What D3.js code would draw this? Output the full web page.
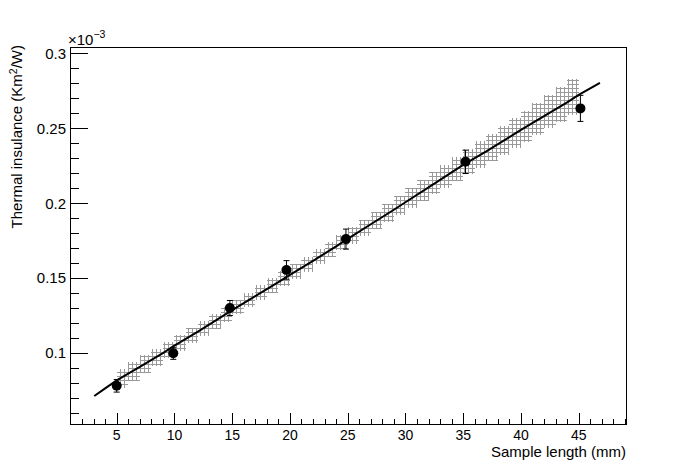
<!DOCTYPE html>
<html>
<head>
<meta charset="utf-8">
<script src="https://cdn.jsdelivr.net/npm/d3@7"></script>
<style>
  body { margin: 0; background: #fff; }
  text { font-family: "Liberation Sans", Arial, sans-serif; fill: #000; }
</style>
</head>
<body>
<div id="chart"></div>
<script>
//Data
var pointX = [5.0, 9.9, 14.8, 19.7, 24.85, 35.2, 45.15];
var pointY = [0.0779, 0.0996, 0.1299, 0.1553, 0.1759, 0.2275, 0.2632];
var pointErr = [0.0042, 0.0040, 0.0050, 0.0062, 0.0067, 0.0078, 0.0087];

var lineX = [3.06, 4, 5, 7, 9, 10, 12, 14, 15, 17, 19, 20, 22, 24, 25, 27, 29, 30, 32, 34, 35, 37, 39, 40, 42, 44, 45, 46.84];
var lineY = [0.0711, 0.0762, 0.0815, 0.0905, 0.0998, 0.1048, 0.1140, 0.1236, 0.1285, 0.1378, 0.1472, 0.1520, 0.1614, 0.1710, 0.1760,
             0.1858, 0.1955, 0.2005, 0.2105, 0.2205, 0.2255, 0.2345, 0.2440, 0.2488, 0.2580, 0.2672, 0.2722, 0.2803];

// band bins, 1 mm wide, starting at 5 mm
var bandStart = [5, 6, 7, 8, 9, 10, 11, 12, 13, 14, 15, 16, 17, 18, 19, 20, 21, 22, 23, 24,
                 25, 26, 27, 28, 29, 30, 31, 32, 33, 34, 35, 36, 37, 38, 39, 40, 41, 42, 43, 44];
var bandMid = [0.0828, 0.0875, 0.0923, 0.0971, 0.1019, 0.1066, 0.1114, 0.1162, 0.1210, 0.1258,
               0.1305, 0.1353, 0.1401, 0.1449, 0.1497, 0.1544, 0.1592, 0.1640, 0.1688, 0.1735,
               0.1783, 0.1833, 0.1883, 0.1933, 0.1982, 0.2032, 0.2082, 0.2132, 0.2180, 0.2228,
               0.2277, 0.2325, 0.2372, 0.2419, 0.2466, 0.2513, 0.2560, 0.2610, 0.2657, 0.2705];
var bandHalf = [0.0065, 0.0062, 0.0059, 0.0057, 0.0055, 0.0053, 0.0052, 0.0051, 0.0050, 0.0050,
                0.0049, 0.0049, 0.0049, 0.0049, 0.0049, 0.0049, 0.0050, 0.0050, 0.0051, 0.0052,
                0.0054, 0.0056, 0.0058, 0.0061, 0.0064, 0.0067, 0.0070, 0.0073, 0.0077, 0.0081,
                0.0084, 0.0088, 0.0092, 0.0096, 0.0100, 0.0104, 0.0108, 0.0112, 0.0116, 0.0120];

var xMajor = [5, 10, 15, 20, 25, 30, 35, 40, 45];
var yMajor = [0.1, 0.15, 0.2, 0.25, 0.3];

//Setup
var width = 696, height = 472;
var frame = { left: 70, right: 626.5, top: 47, bottom: 424 };

var x = d3.scaleLinear().domain([0.957, 49.14]).range([frame.left, frame.right]);
var y = d3.scaleLinear().domain([0.0524, 0.3042]).range([frame.bottom, frame.top]);

var svg = d3.select("#chart")
    .append("svg")
    .attr("width", width)
    .attr("height", height);

//Hatch pattern for the band
var pat = svg.append("defs").append("pattern")
    .attr("id", "hatch")
    .attr("width", 4)
    .attr("height", 4)
    .attr("patternUnits", "userSpaceOnUse");
pat.append("path")
    .attr("d", "M0,0.5H4M0.5,0V4")
    .attr("stroke", "#999")
    .attr("stroke-width", 1)
    .attr("fill", "none");

//Band
svg.append("g").selectAll("rect")
    .data(bandStart)
    .join("rect")
    .attr("x", d => x(d))
    .attr("width", d => x(d + 1) - x(d))
    .attr("y", (d, i) => y(bandMid[i] + bandHalf[i]))
    .attr("height", (d, i) => y(bandMid[i] - bandHalf[i]) - y(bandMid[i] + bandHalf[i]))
    .attr("fill", "url(#hatch)")
    .attr("shape-rendering", "crispEdges");

//Line
var line = d3.line()
    .x((d, i) => x(lineX[i]))
    .y((d, i) => y(lineY[i]));
svg.append("path")
    .attr("d", line(lineX))
    .attr("fill", "none")
    .attr("stroke", "#000")
    .attr("stroke-width", 2);

//Error bars
var pts = svg.append("g");
pointX.forEach((px, i) => {
    var cx = x(px), top = y(pointY[i] + pointErr[i]), bot = y(pointY[i] - pointErr[i]);
    pts.append("path")
        .attr("d", `M${cx},${top}V${bot}M${cx - 3},${top}H${cx + 3}M${cx - 3},${bot}H${cx + 3}`)
        .attr("stroke", "#000")
        .attr("stroke-width", 1)
        .attr("fill", "none");
    pts.append("circle")
        .attr("cx", cx)
        .attr("cy", y(pointY[i]))
        .attr("r", 5)
        .attr("fill", "#000");
});

//Axes
var xAxis = g => g
    .attr("transform", `translate(0, ${frame.bottom})`)
    .call(d3.axisTop(x).tickValues(d3.range(1, 50)).tickSize(5.5).tickFormat(""))
    .call(g => g.selectAll(".tick").filter(d => d % 5 === 0).select("line").attr("y2", -11));
var yAxis = g => g
    .attr("transform", `translate(${frame.left}, 0)`)
    .call(d3.axisRight(y).tickValues(d3.range(6, 31).map(d => d / 100)).tickSize(8.7).tickFormat(""))
    .call(g => g.selectAll(".tick").filter(d => Math.round(d * 100) % 5 === 0).select("line").attr("x2", 17.7));

svg.append("g").call(xAxis).call(g => g.select(".domain").remove());
svg.append("g").call(yAxis).call(g => g.select(".domain").remove());
svg.selectAll(".tick line").attr("stroke", "#000").attr("shape-rendering", "crispEdges");

//Frame
svg.append("rect")
    .attr("x", frame.left)
    .attr("y", frame.top)
    .attr("width", frame.right - frame.left)
    .attr("height", frame.bottom - frame.top)
    .attr("fill", "none")
    .attr("stroke", "#000")
    .attr("stroke-width", 1)
    .attr("shape-rendering", "crispEdges");

//Tick labels
svg.append("g").selectAll("text")
    .data(xMajor)
    .join("text")
    .attr("x", d => x(d))
    .attr("y", 439.5)
    .attr("text-anchor", "middle")
    .attr("font-size", 14)
    .text(d => d);

svg.append("g").selectAll("text")
    .data(yMajor)
    .join("text")
    .attr("x", 66)
    .attr("y", d => y(d) + 5.5)
    .attr("text-anchor", "end")
    .attr("font-size", 15)
    .text(d => d);

//Exponent
var expo = svg.append("text")
    .attr("x", 68)
    .attr("y", 45)
    .attr("font-size", 15);
expo.append("tspan").text("\u00d710");
expo.append("tspan").attr("dy", -7).attr("font-size", 10.5).text("\u22123");

//Axis titles
svg.append("text")
    .attr("x", 626)
    .attr("y", 457)
    .attr("text-anchor", "end")
    .attr("font-size", 15)
    .text("Sample length (mm)");

var ytitle = svg.append("text")
    .attr("transform", "translate(22, 45) rotate(-90)")
    .attr("text-anchor", "end")
    .attr("font-size", 15);
ytitle.append("tspan").text("Thermal insulance (Km");
ytitle.append("tspan").attr("dy", -5).attr("font-size", 10.5).text("2");
ytitle.append("tspan").attr("dy", 5).text("/W)");
</script>
</body>
</html>
